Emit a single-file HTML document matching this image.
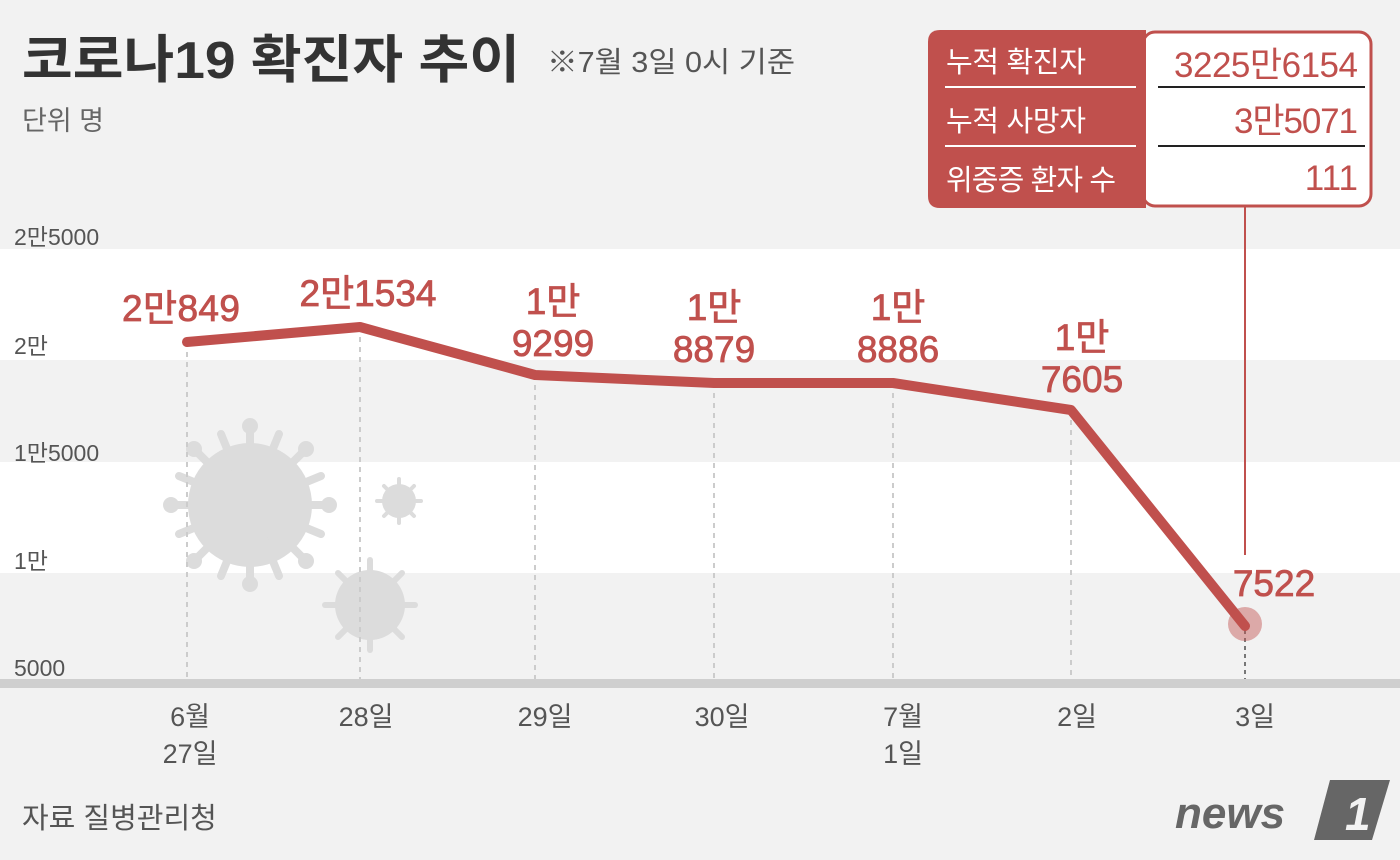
<!DOCTYPE html>
<html><head><meta charset="utf-8"><style>
body{margin:0;width:1400px;height:855px;background:#f2f2f2;overflow:hidden;font-family:"Liberation Sans","Noto Sans CJK KR",sans-serif}
svg text{font-family:"Liberation Sans","Noto Sans CJK KR",sans-serif}
</style></head><body>
<svg width="1400" height="855" viewBox="0 0 1400 855" xmlns="http://www.w3.org/2000/svg">
<rect width="1400" height="855" fill="#f2f2f2"/>
<rect x="0" y="249" width="1400" height="111" fill="#fff"/>
<rect x="0" y="462" width="1400" height="111" fill="#fff"/>
<rect x="0" y="679" width="1400" height="9" fill="#cfcfcf"/>
<g fill="#dcdcdc">
<circle cx="250" cy="505" r="62"/>
<g stroke="#dcdcdc" stroke-width="8" stroke-linecap="round">
<line x1="250" y1="505" x2="250" y2="428"/><line x1="250" y1="505" x2="250" y2="582"/>
<line x1="250" y1="505" x2="173" y2="505"/><line x1="250" y1="505" x2="327" y2="505"/>
<line x1="250" y1="505" x2="196" y2="451"/><line x1="250" y1="505" x2="304" y2="559"/>
<line x1="250" y1="505" x2="304" y2="451"/><line x1="250" y1="505" x2="196" y2="559"/>
<line x1="250" y1="505" x2="221" y2="434"/><line x1="250" y1="505" x2="279" y2="576"/>
<line x1="250" y1="505" x2="321" y2="476"/><line x1="250" y1="505" x2="179" y2="534"/>
<line x1="250" y1="505" x2="279" y2="434"/><line x1="250" y1="505" x2="221" y2="576"/>
<line x1="250" y1="505" x2="321" y2="534"/><line x1="250" y1="505" x2="179" y2="476"/>
</g>
<circle cx="250" cy="426" r="8"/><circle cx="250" cy="584" r="8"/><circle cx="171" cy="505" r="8"/><circle cx="329" cy="505" r="8"/>
<circle cx="194" cy="449" r="8"/><circle cx="306" cy="561" r="8"/><circle cx="306" cy="449" r="8"/><circle cx="194" cy="561" r="8"/>
<circle cx="370" cy="605" r="35"/>
<g stroke="#dcdcdc" stroke-width="6" stroke-linecap="round">
<line x1="370" y1="605" x2="370" y2="560"/><line x1="370" y1="605" x2="370" y2="650"/>
<line x1="370" y1="605" x2="325" y2="605"/><line x1="370" y1="605" x2="415" y2="605"/>
<line x1="370" y1="605" x2="338" y2="573"/><line x1="370" y1="605" x2="402" y2="637"/>
<line x1="370" y1="605" x2="402" y2="573"/><line x1="370" y1="605" x2="338" y2="637"/>
</g>
<circle cx="399" cy="501" r="17"/>
<g stroke="#dcdcdc" stroke-width="4" stroke-linecap="round">
<line x1="399" y1="501" x2="399" y2="479"/><line x1="399" y1="501" x2="399" y2="523"/>
<line x1="399" y1="501" x2="377" y2="501"/><line x1="399" y1="501" x2="421" y2="501"/>
<line x1="399" y1="501" x2="384" y2="486"/><line x1="399" y1="501" x2="414" y2="516"/>
<line x1="399" y1="501" x2="414" y2="486"/><line x1="399" y1="501" x2="384" y2="516"/>
</g></g>
<g stroke="#cccccc" stroke-width="2" stroke-dasharray="5,5">
<line x1="187" y1="342" x2="187" y2="679"/><line x1="360" y1="327" x2="360" y2="679"/>
<line x1="535" y1="375" x2="535" y2="679"/><line x1="714" y1="383" x2="714" y2="679"/>
<line x1="893" y1="383" x2="893" y2="679"/><line x1="1071" y1="410" x2="1071" y2="679"/>
</g>
<line x1="1245" y1="630" x2="1245" y2="679" stroke="#777" stroke-width="2" stroke-dasharray="4,4"/>
<line x1="1245" y1="205" x2="1245" y2="555" stroke="#c0504d" stroke-width="2"/>
<polyline points="187,342 360,327 535,375 714,383 893,383 1071,410 1245,626" fill="none" stroke="#c0504d" stroke-width="10" stroke-linejoin="round" stroke-linecap="round"/>
<circle cx="1245" cy="624" r="17" fill="#c0504d" opacity="0.45"/>
<g fill="#555" font-size="23">
<text x="14" y="245">2만5000</text><text x="14" y="354">2만</text>
<text x="14" y="461">1만5000</text><text x="14" y="569">1만</text><text x="14" y="676">5000</text>
</g>
<g fill="#c0504d" font-size="37" text-anchor="middle" font-weight="normal" stroke="#c0504d" stroke-width="0.8">
<text x="181" y="321" textLength="118">2만849</text><text x="368" y="306" textLength="137">2만1534</text>
<text x="553" y="314">1만</text><text x="553" y="356">9299</text>
<text x="714" y="320">1만</text><text x="714" y="362">8879</text>
<text x="898" y="320">1만</text><text x="898" y="362">8886</text>
<text x="1082" y="350">1만</text><text x="1082" y="392">7605</text>
<text x="1274" y="596">7522</text>
</g>
<g fill="#555" font-size="27" text-anchor="middle">
<text x="190" y="726">6월</text><text x="190" y="763">27일</text>
<text x="366" y="726">28일</text><text x="545" y="726">29일</text><text x="722" y="726">30일</text>
<text x="903" y="726">7월</text><text x="903" y="763">1일</text>
<text x="1077" y="726">2일</text><text x="1255" y="726">3일</text>
</g>
<text x="22" y="78" font-size="52" font-weight="bold" fill="#333" textLength="498" lengthAdjust="spacingAndGlyphs">코로나19 확진자 추이</text>
<text x="547" y="72" font-size="29" fill="#555" textLength="248" lengthAdjust="spacingAndGlyphs">※7월 3일 0시 기준</text>
<text x="22" y="130" font-size="27" fill="#666">단위 명</text>
<text x="22" y="828" font-size="29" fill="#555">자료 질병관리청</text>
<rect x="1143" y="32" width="228" height="174" rx="12" fill="#fff" stroke="#c0504d" stroke-width="3"/>
<path d="M940,30 H1146 V208 H940 Q928,208 928,196 V42 Q928,30 940,30 Z" fill="#c0504d"/>
<line x1="945" y1="87" x2="1136" y2="87" stroke="#fff" stroke-width="2"/>
<line x1="945" y1="146" x2="1136" y2="146" stroke="#fff" stroke-width="2"/>
<line x1="1158" y1="87" x2="1365" y2="87" stroke="#222" stroke-width="2"/>
<line x1="1158" y1="146" x2="1365" y2="146" stroke="#222" stroke-width="2"/>
<g fill="#fff" font-size="29"><text x="946" y="72" textLength="140">누적 확진자</text><text x="946" y="131" textLength="140">누적 사망자</text><text x="946" y="190" textLength="170">위중증 환자 수</text></g>
<g fill="#c0504d" font-size="35" text-anchor="end"><text x="1358" y="77" textLength="184">3225만6154</text><text x="1358" y="133" textLength="124">3만5071</text><text x="1358" y="190">111</text></g>
<text x="1175" y="828" font-size="44" font-weight="bold" font-style="italic" fill="#666">news</text>
<path d="M1330,780 h60 l-18,60 h-58 z" fill="#666"/>
<text x="1345" y="830" font-size="46" font-weight="bold" font-style="italic" fill="#f2f2f2">1</text>
</svg>
</body></html>
